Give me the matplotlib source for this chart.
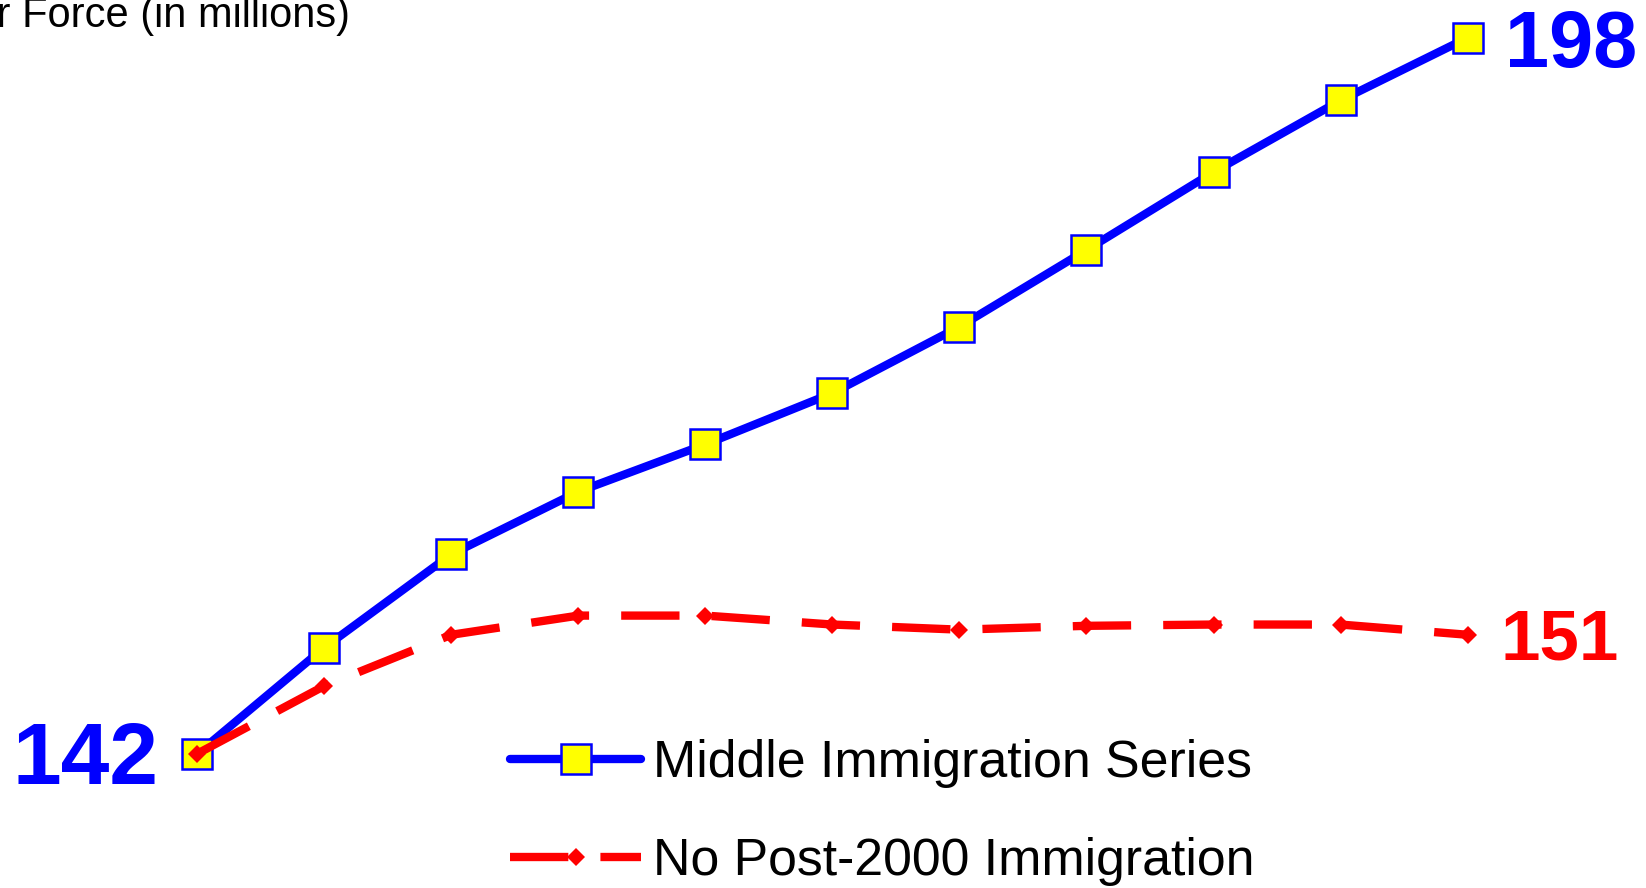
import matplotlib
matplotlib.use("Agg")
import matplotlib.pyplot as plt

plt.rcParams['font.family'] = ['Liberation Sans', 'DejaVu Sans']

# five-year steps, 2000 to 2050
years = [2000, 2005, 2010, 2015, 2020, 2025, 2030, 2035, 2040, 2045, 2050]
middle_series = [142, 150.3, 157.6, 162.5, 166.2, 170.2, 175.4, 181.4, 187.5, 193.1, 198]
no_immigration = [142, 147.3, 151.3, 152.8, 152.8, 152.1, 151.7, 152.0, 152.1, 152.1, 151.3]
series_labels = ["Middle Immigration Series", "No Post-2000 Immigration"]
title_text = "Labor Force (in millions)"

fig = plt.figure(figsize=(16.46, 8.88), dpi=100)
ax = fig.add_axes([0, 0, 1, 1])

x = list(range(len(years)))
ax.plot(x, middle_series, color='#0000ff', lw=6, solid_capstyle='round',
        solid_joinstyle='round', marker='s', ms=22, mfc='#ffff00',
        mec='#0000ff', mew=1.8, label=series_labels[0], zorder=2)
ax.plot(x, no_immigration, color='#ff0000', lw=6, dashes=(7, 3.85),
        dash_capstyle='butt', marker='D', ms=9.5, mfc='#ff0000',
        mec='#ff0000', mew=0, label=series_labels[1], zorder=3)

ax.set_xlim(-1.554, 11.405)
ax.set_ylim(131.49, 200.957)
ax.axis('off')

# end-point value labels
ax.annotate(f"{middle_series[0]:.0f}", (x[0], middle_series[0]), xytext=(-28, -6),
            textcoords='offset points', ha='right', va='center',
            fontsize=63, fontweight='bold', color='#0000ff')
ax.annotate(f"{middle_series[-1]:.0f}", (x[-1], middle_series[-1]), xytext=(27, -6),
            textcoords='offset points', ha='left', va='center',
            fontsize=57, fontweight='bold', color='#0000ff')
ax.annotate(f"{no_immigration[-1]:.0f}", (x[-1], no_immigration[-1]), xytext=(24, -5),
            textcoords='offset points', ha='left', va='center',
            fontsize=51, fontweight='bold', color='#ff0000')

fig.text(350 / 1646, 1 - 27 / 888, title_text, ha='right', va='baseline',
         fontsize=30, color='black')

ax.legend(loc='upper left', bbox_to_anchor=(510 / 1646, 1 - 739 / 888),
          frameon=False, fontsize=37.4, borderpad=0, borderaxespad=0,
          handlelength=2.53, handletextpad=0.22, labelspacing=0.95)

fig.savefig("out.png", dpi=100)
